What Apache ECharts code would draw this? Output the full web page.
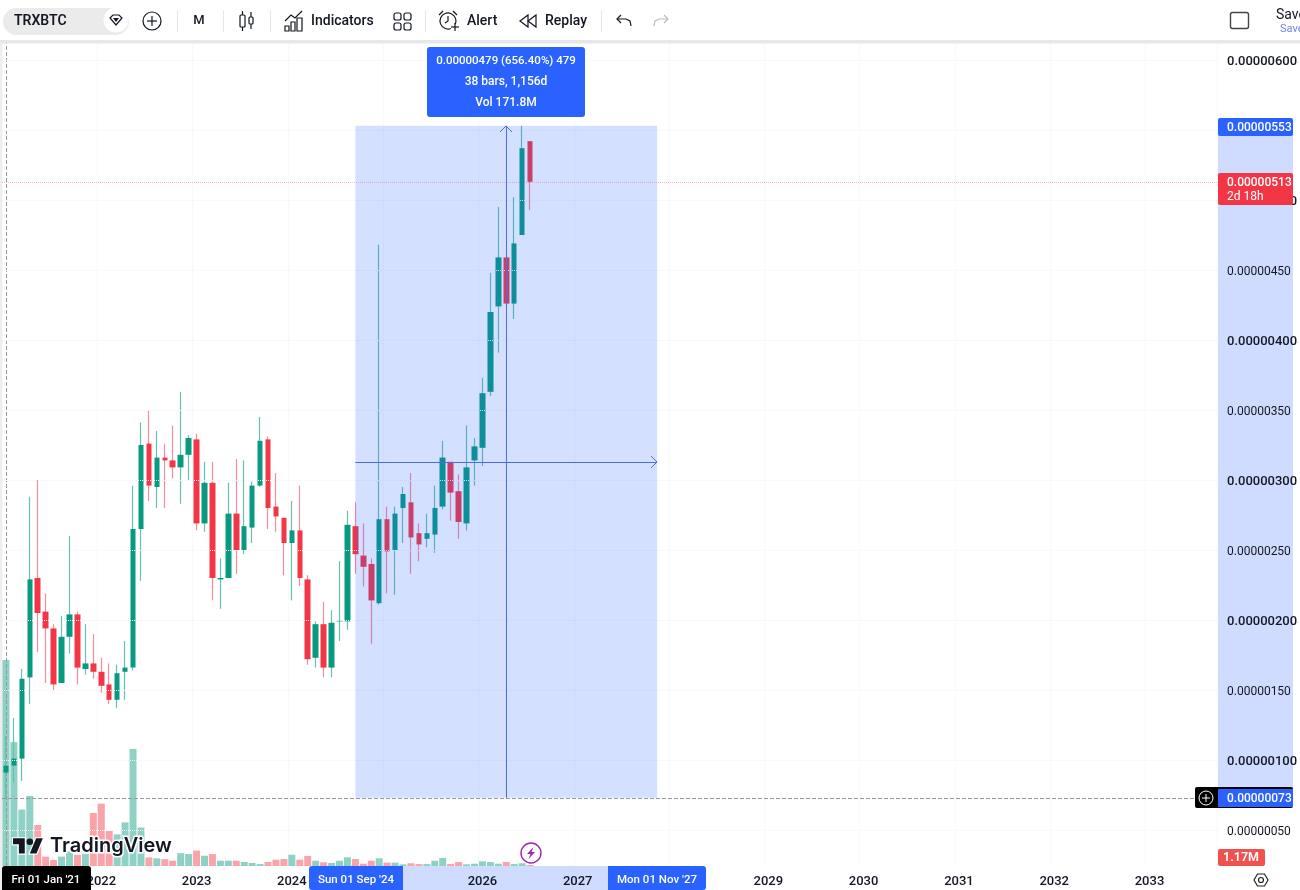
<!DOCTYPE html>
<html>
<head>
<meta charset="utf-8">
<style>html,body{margin:0;padding:0;background:#fff}#c{width:1300px;height:890px}</style>
<script src="https://cdn.jsdelivr.net/npm/echarts@6/dist/echarts.min.js"></script>
</head>
<body>
<div id="c"></div>
<script>
// Prices in units of 1e-8 BTC (satoshi), monthly bars from Jan 2021
const opens  = [91,96,101,159,230,206,194,155,188,204,165,169,163,154,143,163,166,265,326,295,316,314,309,318,329,269,298,229,230,276,250,266,296,329,281,273,255,264,229,173,197,166,199,199,267,246,240,212,272,250,280,284,262,258,261,281,313,292,269,314,323,363,424,459,426,475,542];
const closes = [96,101,158,229,205,194,154,188,204,166,169,163,153,143,162,166,265,325,296,316,314,309,318,330,269,298,230,230,276,250,267,296,328,280,274,255,264,230,172,197,166,198,199.5,268,247,238,214,272,249,276,290,259,254,262,280,316,291,270,309,324,362,420,459,426,469,537,513];
const lows   = [73,84,85,140,177,155,150,155,176,154,161,158,148,140,137,143,164,228,285,280,280,301,283,300,264,263,214,208,230,233,247,255,295,265,263,232,214,224,168,166,159,159,185,193,233,224,183,211,219,218,255,233,242,252,248,279,271,258,264,296,310,360,391,424,415,475,493];
const highs  = [117,130,165,288,300,219,197,203,260,206,197,190,173,169,168,185,296,341,350,335,326,339,363,332,333,313,313,244,298,315,314,299,345,331,305,273,285,296,232,199,213,207,242,278,284,269,244,468,281,281,295,305,269,276,296,328,313,304,339,330,373,448,495,460,502,553,542];
const volumesM = [241,145,66,82,48,11,7,11,17,13,14,62,73,41,37,51,137,45,10,9,8,6.2,15,14,18,12,14,6.2,6.2,6.2,4.7,3.5,2.3,4.7,7.4,8.2,13.2,7.4,11.7,6.2,4.3,3.5,6.2,10.2,8.2,2.7,6.2,9,3.9,3.9,2,3.2,2.3,2.3,6.2,9.4,2.3,4.7,2,2.7,5.5,4.7,2.7,4.7,2.3,3.2,1.17];
const monthCount = 153;
const categories = [];
for (let i = 0; i < monthCount; i++) {
  const y = 2021 + Math.floor(i / 12), m = i % 12 + 1;
  categories.push(y + '-' + (m < 10 ? '0' : '') + m);
}
const measureLow = 73, measureHigh = 553, measureMid = 313, lastPrice = 513;
const measureStart = '2024-09', measureEnd = '2027-11', measureCross = '2026-04';
const tooltipLines = ['0.00000479 (656.40%) 479', '38 bars, 1,156d', 'Vol 171.8M'];

const UP = '#089981', DOWN = '#f23645', UPW = '#68c0b1', DOWNW = '#f68c97';
const BLUE = '#2962ff', INK = '#131722';
const FONT = 'Roboto, sans-serif';

const bodyData = opens.map((o, i) => {
  const top = Math.max(o, closes[i]), bot = Math.min(o, closes[i]);
  return [o, closes[i], bot, top];
});
const wickData = opens.map((o, i) => [o, closes[i], lows[i], highs[i]]);
const volData = volumesM.map((v, i) => ({
  value: v,
  itemStyle: { color: closes[i] >= opens[i] ? 'rgba(8,153,129,0.45)' : 'rgba(242,54,69,0.45)' }
}));

const isYearStart = (idx, val) => val.slice(5) === '01';

function txt(x, y, s, o) {
  return { type: 'text', z: 50, silent: true, x, y, style: Object.assign({
    text: s, fill: INK, font: '500 14px ' + FONT, align: 'left', verticalAlign: 'middle' }, o || {}) };
}
function rect(x, y, w, h, fill, o, z) {
  return { type: 'rect', z: z === undefined ? 49 : z, silent: true, shape: Object.assign({ x, y, width: w, height: h }, o || {}), style: { fill } };
}
function stroke(type, shape, o) {
  return { type, z: 50, silent: true, shape, style: Object.assign({ fill: 'none', stroke: INK, lineWidth: 1.2 }, o || {}) };
}
const sep = x => rect(x, 10, 1, 22, '#e6e6e6');
const logoPt = (u, v) => [13 + 0.84 * u, 835 + 0.84 * v];
const logoShape = pts => ({ type: 'polygon', z: 47, silent: true, shape: { points: pts.map(p => logoPt(p[0], p[1])) },
  style: { fill: INK, stroke: '#fff', lineWidth: 2.4, strokeFirst: true } });

const chrome = [
  // toolbar
  rect(0, 0, 1300, 40, '#ffffff', null, 40),
  rect(0, 40, 1300, 3.5, '#e6e7ea', null, 40),
  rect(0, 43, 2, 847, '#eeeeee', null, 40),
  rect(3, 8, 126, 27, '#ebebeb', { r: 13.5 }),
  txt(14, 21, 'TRXBTC', { font: '600 14px ' + FONT }),
  { type: 'circle', z: 50, silent: true, shape: { cx: 116, cy: 20, r: 12.5 }, style: { fill: '#fff' } },
  stroke('polygon', { points: [[110, 18], [113, 15], [119, 15], [122, 18], [116, 25]] }, { fill: '#fff' }),
  { type: 'polygon', z: 51, silent: true, shape: { points: [[113, 18], [119, 18], [116, 22]] }, style: { fill: INK } },
  stroke('circle', { cx: 152, cy: 21, r: 9 }),
  stroke('polyline', { points: [[147, 21], [157, 21]] }),
  stroke('polyline', { points: [[152, 16], [152, 26]] }),
  sep(177),
  txt(199, 21, 'M', { align: 'center', font: '500 13px ' + FONT }),
  sep(223),
  stroke('rect', { x: 240, y: 15, width: 5, height: 12, r: 1 }),
  stroke('polyline', { points: [[242.5, 11], [242.5, 15]] }),
  stroke('polyline', { points: [[242.5, 27], [242.5, 31]] }),
  stroke('rect', { x: 249, y: 17, width: 4, height: 7, r: 1 }),
  stroke('polyline', { points: [[251, 12], [251, 17]] }),
  stroke('polyline', { points: [[251, 24], [251, 29]] }),
  sep(270),
  stroke('polyline', { points: [[285, 21], [291, 15], [295, 18], [302, 11]] }),
  stroke('rect', { x: 285, y: 26, width: 4, height: 5 }),
  stroke('rect', { x: 291, y: 22, width: 4, height: 9 }),
  stroke('rect', { x: 297, y: 18, width: 5, height: 13 }),
  txt(311, 21, 'Indicators', { font: '500 14px ' + FONT }),
  stroke('rect', { x: 394, y: 13, width: 7, height: 7, r: 2 }),
  stroke('rect', { x: 404, y: 13, width: 7, height: 7, r: 2 }),
  stroke('rect', { x: 394, y: 23, width: 7, height: 7, r: 2 }),
  stroke('rect', { x: 404, y: 23, width: 7, height: 7, r: 2 }),
  sep(425),
  stroke('arc', { cx: 448, cy: 21, r: 8, startAngle: 1.2, endAngle: 0.4 }),
  stroke('polyline', { points: [[448, 16], [448, 21], [445, 23]] }),
  stroke('polyline', { points: [[439, 15], [443, 11]] }),
  stroke('polyline', { points: [[453, 11], [457, 15]] }),
  stroke('polyline', { points: [[451, 27], [459, 27]] }),
  stroke('polyline', { points: [[455, 23], [455, 31]] }),
  txt(467, 21, 'Alert', { font: '500 14px ' + FONT }),
  stroke('polygon', { points: [[528, 15], [528, 27], [520, 21]] }),
  stroke('polygon', { points: [[536, 15], [536, 27], [528, 21]] }),
  txt(545, 21, 'Replay', { font: '500 14px ' + FONT }),
  sep(601),
  stroke('polyline', { points: [[621, 15], [617, 19], [621, 23]] }),
  stroke('polyline', { points: [[617, 19], [626, 19], [630, 21], [631, 26]] }),
  stroke('polyline', { points: [[664, 15], [668, 19], [664, 23]] }, { stroke: '#b8bbc3' }),
  stroke('polyline', { points: [[668, 19], [659, 19], [655, 21], [654, 26]] }, { stroke: '#b8bbc3' }),
  stroke('rect', { x: 1230.5, y: 12.5, width: 18, height: 16, r: 2 }, { stroke: '#444', lineWidth: 1.4 }),
  txt(1276, 15, 'Save', { font: '400 14px ' + FONT }),
  txt(1280, 29, 'Save', { font: '400 11px ' + FONT, fill: '#6f87e8' }),

  // measure tooltip
  rect(427, 47, 158, 70, BLUE, { r: 3 }),
  txt(506, 61.5, tooltipLines[0], { align: 'center', fill: '#fff', font: '500 11.5px ' + FONT }),
  txt(506, 82, tooltipLines[1], { align: 'center', fill: '#fff', font: '500 12px ' + FONT }),
  txt(506, 103, tooltipLines[2], { align: 'center', fill: '#fff', font: '500 12px ' + FONT }),
  stroke('polyline', { points: [[500, 132], [506, 126], [512, 132]] }, { stroke: '#4a6fdc', lineWidth: 1 }),
  stroke('polyline', { points: [[651, 456], [657, 462], [651, 468]] }, { stroke: '#4a6fdc', lineWidth: 1 }),

  // price scale tags
  rect(1218, 126, 75, 672, '#d0dcff', null, -1),
  rect(1218, 118, 75, 18, BLUE, { r: 2 }),
  txt(1227, 127.5, '0.00000553', { fill: '#fff', font: '500 12px ' + FONT }),
  rect(1218, 173, 75, 32, DOWN, { r: 2 }),
  txt(1227, 182.5, '0.00000513', { fill: '#fff', font: '500 12px ' + FONT }),
  txt(1227, 197, '2d 18h', { fill: '#fff', font: '400 12px ' + FONT }),
  rect(1195, 787, 98, 21, '#000000', { r: 2 }),
  rect(1218, 789, 75, 18, BLUE),
  txt(1227, 798.5, '0.00000073', { fill: '#fff', font: '500 12px ' + FONT }),
  stroke('circle', { cx: 1206, cy: 798, r: 7 }, { stroke: '#fff', lineWidth: 1 }),
  stroke('polyline', { points: [[1202, 798], [1210, 798]] }, { stroke: '#fff', lineWidth: 1 }),
  stroke('polyline', { points: [[1206, 794], [1206, 802]] }, { stroke: '#fff', lineWidth: 1 }),
  rect(1218, 849, 47, 17, '#ef5350', { r: 2 }),
  txt(1241, 858, '1.17M', { align: 'center', fill: '#fff', font: '600 12.5px ' + FONT }),
  stroke('polygon', { points: [[1254, 880], [1257.5, 874], [1264.5, 874], [1268, 880], [1264.5, 886], [1257.5, 886]] }, { stroke: '#222' }),
  stroke('circle', { cx: 1261, cy: 880, r: 2.5 }, { stroke: '#222' }),

  // time scale tags
  rect(403, 866, 205, 24, '#d0dcff', null, -1),
  rect(2, 866, 89, 24, '#000000', { r: [3, 3, 0, 0] }),
  txt(46, 880.5, "Fri 01 Jan '21", { align: 'center', fill: '#fff', font: '500 11.5px ' + FONT }),
  rect(309, 866, 94, 24, BLUE, { r: [3, 0, 0, 3] }),
  txt(356, 880.5, "Sun 01 Sep '24", { align: 'center', fill: '#fff', font: '500 11.5px ' + FONT }),
  rect(608, 866, 98, 24, BLUE, { r: [0, 3, 3, 0] }),
  txt(657, 880.5, "Mon 01 Nov '27", { align: 'center', fill: '#fff', font: '500 11.5px ' + FONT }),

  // TradingView watermark
  logoShape([[14, 22], [7, 22], [7, 11], [0, 11], [0, 4], [14, 4]]),
  logoShape([[28, 22], [20, 22], [27.5, 4], [35.5, 4]]),
  { type: 'circle', z: 48, silent: true, shape: { cx: 29.8, cy: 841.7, r: 3.3 }, style: { fill: INK } },
  { type: 'text', z: 47, silent: true, x: 50, y: 846, style: { text: 'TradingView', fill: INK, font: '600 20px Inter, ' + FONT,
    verticalAlign: 'middle', stroke: '#fff', lineWidth: 3 } },

  // event mark
  stroke('circle', { cx: 531, cy: 853, r: 10 }, { stroke: '#9c27b0', lineWidth: 1.4, fill: '#fff' }),
  { type: 'polygon', z: 51, silent: true, shape: { points: [[533.5, 847], [527, 854], [530.5, 854], [528.5, 859], [535, 852], [531.5, 852]] }, style: { fill: '#9c27b0' } }
];

const chart = echarts.init(document.getElementById('c'), null, { renderer: 'canvas', width: 1300, height: 890 });
chart.setOption({
  animation: false,
  backgroundColor: '#ffffff',
  grid: [
    { left: 2, width: 1215, top: 60, height: 770, outerBoundsMode: 'none' },
    { left: 2, width: 1215, top: 43, height: 823, outerBoundsMode: 'none' }
  ],
  xAxis: [
    { type: 'category', gridIndex: 0, data: categories, show: false, boundaryGap: true },
    { type: 'category', gridIndex: 1, data: categories, boundaryGap: true,
      axisLine: { show: false }, axisTick: { show: false },
      axisLabel: { interval: isYearStart, formatter: v => v.slice(0, 4), color: INK, margin: 9,
        fontFamily: 'Roboto', fontSize: 13, fontWeight: 500, hideOverlap: false },
      splitLine: { show: true, interval: isYearStart, lineStyle: { color: '#f2f3f5', type: 'dotted' } } }
  ],
  yAxis: [
    { type: 'value', gridIndex: 0, position: 'right', min: 50, max: 600, interval: 50, z: 5,
      axisLine: { show: false }, axisTick: { show: false },
      axisLabel: {
        formatter: v => '{' + (v % 100 === 0 ? 'major' : 'minor') + '|' + (v * 1e-8).toFixed(8) + '}',
        margin: 10, color: INK,
        rich: {
          major: { fontFamily: 'Roboto', fontSize: 13, fontWeight: 500, color: INK, padding: [3, 0, 0, 0] },
          minor: { fontFamily: 'Roboto', fontSize: 12, fontWeight: 400, color: INK, padding: [3, 0, 0, 0] }
        } },
      splitLine: { show: true, lineStyle: { color: '#f2f3f5', type: 'dotted' } } },
    { type: 'value', gridIndex: 1, min: 0, max: 963, show: false, splitLine: { show: false } }
  ],
  series: [
    { type: 'bar', name: 'Volume', xAxisIndex: 1, yAxisIndex: 1, data: volData, barWidth: 7, z: 1,
      markLine: { silent: true, symbol: 'none', label: { show: false }, z: 3,
        lineStyle: { color: '#9598a1', type: 'dashed', width: 1 },
        data: [{ xAxis: categories[0] }] } },
    { type: 'candlestick', name: 'Wicks', xAxisIndex: 0, yAxisIndex: 0, data: wickData, barWidth: 1, z: 3,
      itemStyle: { color: UPW, color0: DOWNW, borderColor: UPW, borderColor0: DOWNW, borderWidth: 1.2 } },
    { type: 'candlestick', name: 'Bodies', xAxisIndex: 0, yAxisIndex: 0, data: bodyData, barWidth: 6, z: 4,
      itemStyle: { color: UP, color0: DOWN, borderColor: UP, borderColor0: DOWN, borderWidth: 0 },
      markArea: { silent: true, z: 10, itemStyle: { color: 'rgba(41,98,255,0.2)' }, label: { show: false },
        data: [[{ xAxis: measureStart, yAxis: measureLow }, { xAxis: measureEnd, yAxis: measureHigh }]] },
      markLine: { silent: true, symbol: 'none', z: 11, label: { show: false }, precision: 8,
        lineStyle: { color: '#4a6fdc', type: 'solid', width: 1 },
        data: [
          [{ xAxis: measureStart, yAxis: measureMid }, { xAxis: measureEnd, yAxis: measureMid }],
          [{ xAxis: measureCross, yAxis: measureLow }, { xAxis: measureCross, yAxis: measureHigh }],
          { yAxis: lastPrice, lineStyle: { color: 'rgba(242,54,69,0.35)', type: 'dotted', width: 1 } },
          { yAxis: measureLow, lineStyle: { color: '#9598a1', type: 'dashed', width: 1 } }
        ] } }
  ],
  graphic: chrome
});
</script>
</body>
</html>
